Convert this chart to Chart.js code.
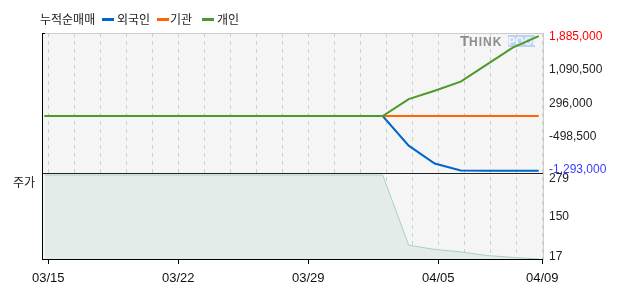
<!DOCTYPE html>
<html>
<head>
<meta charset="utf-8">
<script src="https://cdn.jsdelivr.net/npm/chart.js@4/dist/chart.umd.min.js"></script>
<style>
  html, body { margin: 0; padding: 0; background: #fff; }
  #wrap { position: relative; width: 617px; height: 292px; }
  #c { position: absolute; left: 0; top: 0; }
  .lbl { position: absolute; font: 12px 'Noto Sans CJK KR', sans-serif; color: #222; line-height: 14px; white-space: nowrap; }
  .sw { position: absolute; width: 12px; height: 3px; }
</style>
</head>
<body>
<div id="wrap">
  <canvas id="c" width="617" height="292"></canvas>
  <div class="lbl" style="left:40px;top:12px">누적순매매</div>
  <div class="sw" style="left:102px;top:18px;background:#0066cc"></div>
  <div class="lbl" style="left:117px;top:12px">외국인</div>
  <div class="sw" style="left:157px;top:18px;background:#ff6600"></div>
  <div class="lbl" style="left:170px;top:12px">기관</div>
  <div class="sw" style="left:202px;top:18px;background:#4b9a2a"></div>
  <div class="lbl" style="left:217px;top:12px">개인</div>
  <div class="lbl" style="left:13px;top:175px">주가</div>
</div>
<script>
// trading days on the x axis
var dates = ['03/15','03/16','03/17','03/18','03/19','03/22','03/23','03/24','03/25','03/26',
             '03/29','03/30','03/31','04/01','04/02','04/05','04/06','04/07','04/08','04/09'];
var shownDates = ['03/15','03/22','03/29','04/05','04/09'];

// cumulative net buying
var foreign     = [0,0,0,0,0,0,0,0,0,0,0,0,0,0,-700000,-1120000,-1285000,-1293000,-1293000,-1293000];
var institution = [0,0,0,0,0,0,0,0,0,0,0,0,0,0,0,0,0,0,0,0];
var individual  = [0,0,0,0,0,0,0,0,0,0,0,0,0,0,398000,594000,811000,1212000,1614000,1885000];

// share price
var price = [279,279,279,279,279,279,279,279,279,279,279,279,279,279,60,47,39,28,22,17];

var netTicks = [1885000, 1090500, 296000, -498500, -1293000];
var priceTicks = [279, 150, 17];

var gridShift = 0.1385;

function pts(arr){
  return arr.map(function(v, i){ return {x: i, y: v}; });
}

// keep the edge labels inside their panel
function clampLabels(scale, topGap, bottomGap){
  scale.getPixelForTick = function(i){
    var p = Chart.LinearScale.prototype.getPixelForTick.call(this, i);
    return Math.min(Math.max(p, this.top + topGap), this.bottom - bottomGap);
  };
}

var panelPlugin = {
  id: 'panels',
  beforeDraw: function(chart){
    var ctx = chart.ctx, a = chart.chartArea;
    ctx.save();
    ctx.fillStyle = '#f5f5f5';
    ctx.fillRect(a.left, a.top, a.right - a.left, a.bottom - a.top);
    ctx.restore();
  },
  beforeDatasetsDraw: function(chart){
    var ctx = chart.ctx;
    ctx.save();
    ctx.textBaseline = 'alphabetic';
    ctx.fillStyle = '#8c8c8c';
    ctx.font = 'bold 15px "Liberation Sans", sans-serif';
    ctx.fillText('T', 460, 46);
    ctx.font = 'bold 12px "Liberation Sans", sans-serif';
    ctx.letterSpacing = '1px';
    ctx.fillText('HINK', 469, 46);
    ctx.fillStyle = '#c2d3f1';
    ctx.fillRect(508, 35, 27, 12);
    ctx.fillStyle = '#f6f9fe';
    ctx.letterSpacing = '0px';
    ctx.font = 'bold 11px "Liberation Sans", sans-serif';
    ctx.fillText('POOL', 508, 45);
    ctx.restore();
  },
  afterDraw: function(chart){
    var ctx = chart.ctx, a = chart.chartArea;
    var sep = chart.scales.y2.top;
    ctx.save();
    ctx.lineWidth = 1;
    ctx.strokeStyle = '#cccccc';
    ctx.beginPath();
    ctx.moveTo(a.left, a.top + 0.5); ctx.lineTo(a.right, a.top + 0.5);
    ctx.moveTo(a.right + 0.5, a.top); ctx.lineTo(a.right + 0.5, a.bottom);
    ctx.stroke();
    ctx.strokeStyle = '#222222';
    ctx.beginPath();
    ctx.moveTo(a.left, sep + 0.5); ctx.lineTo(a.right, sep + 0.5);
    ctx.stroke();
    ctx.strokeStyle = '#000000';
    ctx.beginPath();
    ctx.moveTo(a.left - 0.5, a.top); ctx.lineTo(a.left - 0.5, a.bottom);
    ctx.moveTo(a.left - 1, a.top + 0.5); ctx.lineTo(a.left + 2, a.top + 0.5);
    ctx.moveTo(a.left, a.bottom - 0.5); ctx.lineTo(a.right, a.bottom - 0.5);
    ctx.stroke();
    ctx.restore();
  }
};

var chart = new Chart(document.getElementById('c'), {
  type: 'line',
  data: {
    datasets: [{
      label: '개인',
      data: pts(individual),
      yAxisID: 'y',
      borderColor: '#4b9a2a',
      borderWidth: 2,
      pointRadius: 0,
      order: 0
    }, {
      label: '기관',
      data: pts(institution),
      yAxisID: 'y',
      borderColor: '#ff6600',
      borderWidth: 2,
      pointRadius: 0,
      order: 1
    }, {
      label: '외국인',
      data: pts(foreign),
      yAxisID: 'y',
      borderColor: '#0066cc',
      borderWidth: 2,
      pointRadius: 0,
      order: 2
    }, {
      label: '주가',
      data: pts(price),
      yAxisID: 'y2',
      borderColor: '#a7d2c2',
      backgroundColor: '#e3ece8',
      borderWidth: 1,
      pointRadius: 0,
      fill: 'start',
      order: 3
    }]
  },
  options: {
    responsive: false,
    animation: false,
    events: [],
    layout: { padding: { left: 43, top: 33, right: 0, bottom: 0 } },
    plugins: { legend: { display: false }, tooltip: { enabled: false } },
    scales: {
      x: {
        type: 'linear',
        position: 'bottom',
        min: -0.0654,
        max: 19.1654,
        afterBuildTicks: function(scale){
          scale.ticks = dates.map(function(d, i){ return {value: i + gridShift}; });
        },
        afterFit: function(scale){ scale.height = 32; },
        border: { display: false, dash: [4, 4] },
        grid: {
          color: '#d0d0d0',
          lineWidth: 1,
          tickLength: 4,
          tickBorderDash: [],
          tickColor: function(ctx){
            var d = dates[ctx.index];
            return shownDates.indexOf(d) >= 0 ? '#000000' : 'rgba(0,0,0,0)';
          }
        },
        ticks: {
          autoSkip: false,
          maxRotation: 0,
          padding: 7,
          color: '#111',
          font: { family: "'Liberation Sans Narrow', 'Liberation Sans'", size: 13 },
          callback: function(v, i){
            return shownDates.indexOf(dates[i]) >= 0 ? dates[i] : '';
          }
        }
      },
      y: {
        type: 'linear',
        position: 'right',
        stack: 'panels',
        stackWeight: 140,
        min: -1344400,
        max: 1957500,
        afterBuildTicks: function(scale){
          scale.ticks = netTicks.map(function(v){ return {value: v}; });
          clampLabels(scale, 4, 3);
        },
        afterFit: function(scale){ scale.width = 74; },
        border: { display: false },
        grid: { display: false, drawTicks: false },
        ticks: {
          padding: 6,
          font: { family: "'Liberation Sans'", size: 12 },
          color: function(ctx){
            if (ctx.tick.value === netTicks[0]) return '#ff0000';
            if (ctx.tick.value === netTicks[netTicks.length - 1]) return '#3b3bff';
            return '#222222';
          },
          callback: function(v){ return v.toLocaleString('en-US'); }
        }
      },
      y2: {
        type: 'linear',
        position: 'right',
        stack: 'panels',
        stackWeight: 87,
        min: 13.9,
        max: 285.2,
        afterBuildTicks: function(scale){
          scale.ticks = priceTicks.map(function(v){ return {value: v}; });
          clampLabels(scale, 6, 3);
        },
        afterFit: function(scale){ scale.width = 74; },
        border: { display: false },
        grid: { display: false, drawTicks: false },
        ticks: {
          padding: 6,
          font: { family: "'Liberation Sans'", size: 12 },
          color: '#222222',
          callback: function(v){ return v.toLocaleString('en-US'); }
        }
      }
    }
  },
  plugins: [panelPlugin]
});
</script>
</body>
</html>
